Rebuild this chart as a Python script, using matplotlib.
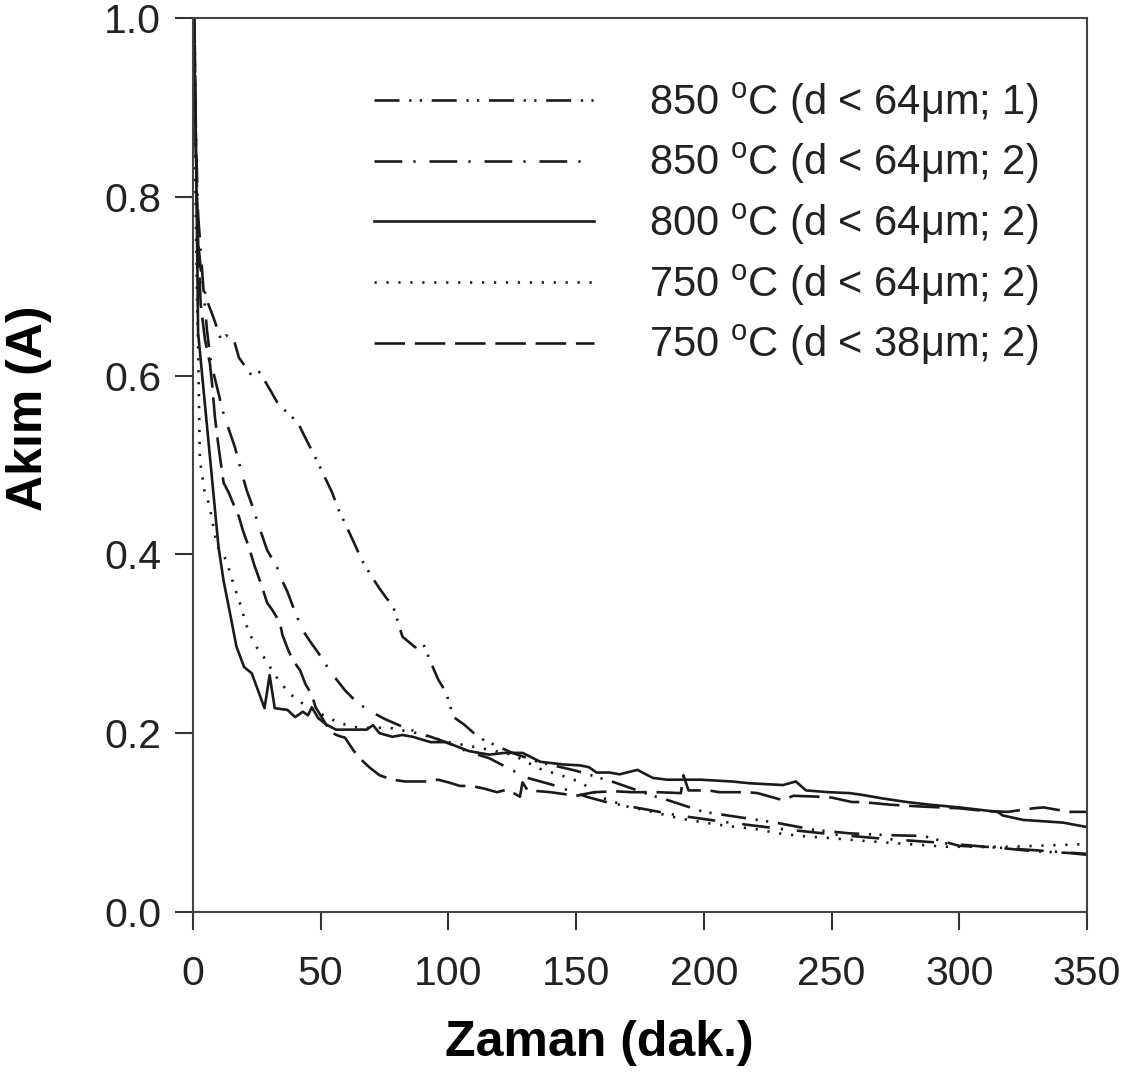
"""
Akim - zaman egrileri (850/800/750 C), okunan degerlerle yeniden cizim.
"""
import matplotlib
matplotlib.use("Agg")
import matplotlib.pyplot as plt

plt.rcParams["font.family"] = ["Liberation Sans", "DejaVu Sans"]
plt.rcParams["lines.scale_dashes"] = False

# ---- 850 C (d < 64um; 1) : dash-dot-dot ----
t_850_1 = [0.6, 1.2, 2, 3, 4, 6, 8, 11, 13, 16, 18, 23, 26, 30, 33, 37, 41, 43,
           48.5, 51, 54.5, 57, 59.5, 64, 66, 70, 73, 76, 78, 82, 87, 90, 93, 96,
           99, 102, 106, 110, 114, 118, 125, 135, 150, 165, 180, 186, 200, 214,
           228, 243, 257, 272, 286, 300, 315, 329, 343, 350]
i_850_1 = [1.0, 0.82, 0.75, 0.72, 0.70, 0.68, 0.665, 0.64, 0.645, 0.64, 0.62,
           0.60, 0.604, 0.585, 0.57, 0.558, 0.548, 0.536, 0.505, 0.49, 0.469,
           0.45, 0.435, 0.407, 0.394, 0.375, 0.362, 0.35, 0.345, 0.308, 0.296,
           0.301, 0.28, 0.26, 0.246, 0.218, 0.21, 0.20, 0.192, 0.187, 0.178,
           0.168, 0.158, 0.145, 0.13, 0.125, 0.112, 0.106, 0.10, 0.092, 0.088,
           0.086, 0.085, 0.074, 0.072, 0.068, 0.066, 0.064]

# ---- 850 C (d < 64um; 2) : dash-dot ----
t_850_2 = [0.7, 1.2, 2, 4, 5.5, 7, 9.4, 11.7, 14, 16.4, 19, 21, 23.5, 26, 29,
           33, 35, 37, 40, 43, 46, 49, 54, 59.5, 64, 68.5, 75, 83, 91, 99, 107,
           116, 124, 131, 141, 154, 163, 175, 190, 210, 230, 250, 270, 290,
           310, 330, 350]
i_850_2 = [0.97, 0.86, 0.78, 0.70, 0.65, 0.615, 0.587, 0.56, 0.54, 0.52, 0.492,
           0.472, 0.452, 0.43, 0.405, 0.385, 0.37, 0.358, 0.335, 0.315, 0.302,
           0.29, 0.268, 0.248, 0.235, 0.226, 0.216, 0.206, 0.198, 0.19, 0.18,
           0.172, 0.16, 0.15, 0.142, 0.129, 0.122, 0.116, 0.108, 0.10, 0.093,
           0.087, 0.082, 0.078, 0.073, 0.069, 0.065]

# ---- 800 C (d < 64um; 2) : solid ----
t_800 = [0.3, 1.2, 2, 4, 6, 8, 10, 12, 14.5, 17, 20, 23, 28, 30, 32, 37, 40,
         43, 45, 46.5, 49, 52, 56, 68, 70.5, 73, 78, 82, 86, 93, 99, 108, 116,
         122, 129, 136, 145, 151.5, 155, 158, 163, 167, 174, 180, 185.5, 192,
         198.5, 211, 218, 231, 236, 240, 249, 257, 262, 270, 279.5, 288.5, 300,
         315, 317, 325, 340.6, 350]
i_800 = [1.0, 0.85, 0.648, 0.588, 0.528, 0.468, 0.408, 0.37, 0.334, 0.297,
         0.274, 0.267, 0.228, 0.265, 0.228, 0.226, 0.218, 0.224, 0.22, 0.229,
         0.217, 0.21, 0.204, 0.204, 0.209, 0.20, 0.196, 0.198, 0.196, 0.19,
         0.19, 0.18, 0.176, 0.178, 0.178, 0.168, 0.165, 0.164, 0.162, 0.156,
         0.156, 0.154, 0.159, 0.15, 0.148, 0.148, 0.148, 0.146, 0.144, 0.142,
         0.146, 0.136, 0.134, 0.133, 0.131, 0.127, 0.123, 0.12, 0.117, 0.112,
         0.108, 0.103, 0.10, 0.095]

# ---- 750 C (d < 64um; 2) : dotted ----
t_750_64 = [0.4, 1, 1.5, 2, 2.7, 3.5, 4.5, 5.5, 6.6, 9.4, 12.5, 14.5, 15.7,
            17.6, 19, 20.4, 22, 24.7, 28, 31, 34.3, 38.4, 43, 53, 58, 62.6,
            67.7, 77, 87.7, 100, 115, 125, 136, 145, 152, 160, 170, 180, 190,
            200, 210, 220, 229, 238, 248, 265, 280, 295, 320, 340, 350]
i_750_64 = [0.9, 0.8, 0.70, 0.63, 0.505, 0.49, 0.47, 0.464, 0.452, 0.41, 0.396,
            0.38, 0.368, 0.352, 0.34, 0.325, 0.312, 0.297, 0.284, 0.27, 0.256,
            0.243, 0.233, 0.217, 0.211, 0.207, 0.206, 0.206, 0.20, 0.19, 0.182,
            0.176, 0.16, 0.152, 0.145, 0.128, 0.118, 0.112, 0.105, 0.10, 0.096,
            0.093, 0.088, 0.085, 0.083, 0.079, 0.076, 0.073, 0.073, 0.075,
            0.076]

# ---- 750 C (d < 38um; 2) : dashed ----
t_750_38 = [0.5, 1.2, 2, 3, 4.7, 6.6, 7.5, 8.6, 9.8, 10.5, 12, 14, 16, 18,
            19.5, 22, 24, 27, 29, 31, 34, 35, 37, 39, 42, 44, 46.5, 48, 51, 54,
            57, 59.5, 63, 66, 69, 73, 78, 83, 92, 96, 100, 104.5, 109, 114, 119,
            123, 128, 129, 131, 136, 140, 145, 150, 157, 165, 172, 182, 191,
            192, 194, 202, 206, 217, 221, 231, 235, 245, 250, 258, 262, 273,
            285, 300, 310, 319, 329, 333, 343, 350]
i_750_38 = [0.98, 0.85, 0.75, 0.68, 0.64, 0.614, 0.59, 0.553, 0.525, 0.51,
            0.48, 0.469, 0.455, 0.442, 0.427, 0.407, 0.388, 0.364, 0.346,
            0.338, 0.324, 0.31, 0.295, 0.282, 0.27, 0.255, 0.243, 0.229, 0.215,
            0.201, 0.197, 0.195, 0.18, 0.17, 0.162, 0.153, 0.148, 0.146, 0.146,
            0.148, 0.145, 0.141, 0.141, 0.138, 0.134, 0.137, 0.129, 0.145,
            0.136, 0.135, 0.134, 0.132, 0.13, 0.134, 0.135, 0.134, 0.134,
            0.133, 0.153, 0.136, 0.136, 0.134, 0.134, 0.133, 0.125, 0.13,
            0.129, 0.128, 0.123, 0.123, 0.12, 0.118, 0.116, 0.113, 0.112,
            0.116, 0.117, 0.112, 0.112]

LABELS = ["850 $\\mathregular{^o}$C (d < 64\u03bcm; 1)",
          "850 $\\mathregular{^o}$C (d < 64\u03bcm; 2)",
          "800 $\\mathregular{^o}$C (d < 64\u03bcm; 2)",
          "750 $\\mathregular{^o}$C (d < 64\u03bcm; 2)",
          "750 $\\mathregular{^o}$C (d < 38\u03bcm; 2)"]

STYLES = [(0, (18, 7, 1.6, 6, 1.6, 7)),   # dash-dot-dot
          (0, (20, 8, 1.6, 10)),          # dash-dot
          "-",
          (0, (1.6, 7)),                  # dotted
          (0, (22, 7))]                   # dashed

series = [(t_850_1, i_850_1), (t_850_2, i_850_2), (t_800, i_800),
          (t_750_64, i_750_64), (t_750_38, i_750_38)]

fig = plt.figure(figsize=(11.3, 10.73), dpi=100)
ax = fig.add_axes([193 / 1130, 1 - 912 / 1073, 894 / 1130, 894 / 1073])

for (t, cur), ls, lab in zip(series, STYLES, LABELS):
    ax.plot(t, cur, color="#1a1a1a", lw=1.9, ls=ls, label=lab)

ax.set_xlim(0, 350)
ax.set_ylim(0, 1.0)
ax.set_xticks(range(0, 351, 50))
ax.set_yticks([0.0, 0.2, 0.4, 0.6, 0.8, 1.0])
ax.set_yticklabels(["0.0", "0.2", "0.4", "0.6", "0.8", "1.0"])
ax.tick_params(direction="out", length=13, width=1.5, labelsize=29.5,
               colors="#333333", labelcolor="#222222")
ax.tick_params(axis="x", pad=18)
ax.tick_params(axis="y", pad=10)
for sp in ax.spines.values():
    sp.set_color("#444444")
    sp.set_linewidth(1.5)

# labels sit a bit off-centre in the original figure
ax.set_xlabel("Zaman (dak.)", fontsize=36, fontweight="bold")
ax.set_ylabel("Akım (A)", fontsize=36, fontweight="bold")
ax.xaxis.set_label_coords(0.455, -0.121)
ax.yaxis.set_label_coords(-0.158, 0.564)

ax.legend(loc="upper right", bbox_to_anchor=(0.987, 0.972), frameon=False,
          fontsize=30, handlelength=5.3, handletextpad=1.3, labelspacing=0.37,
          labelcolor="#222222")

fig.savefig("out.png", dpi=100)
